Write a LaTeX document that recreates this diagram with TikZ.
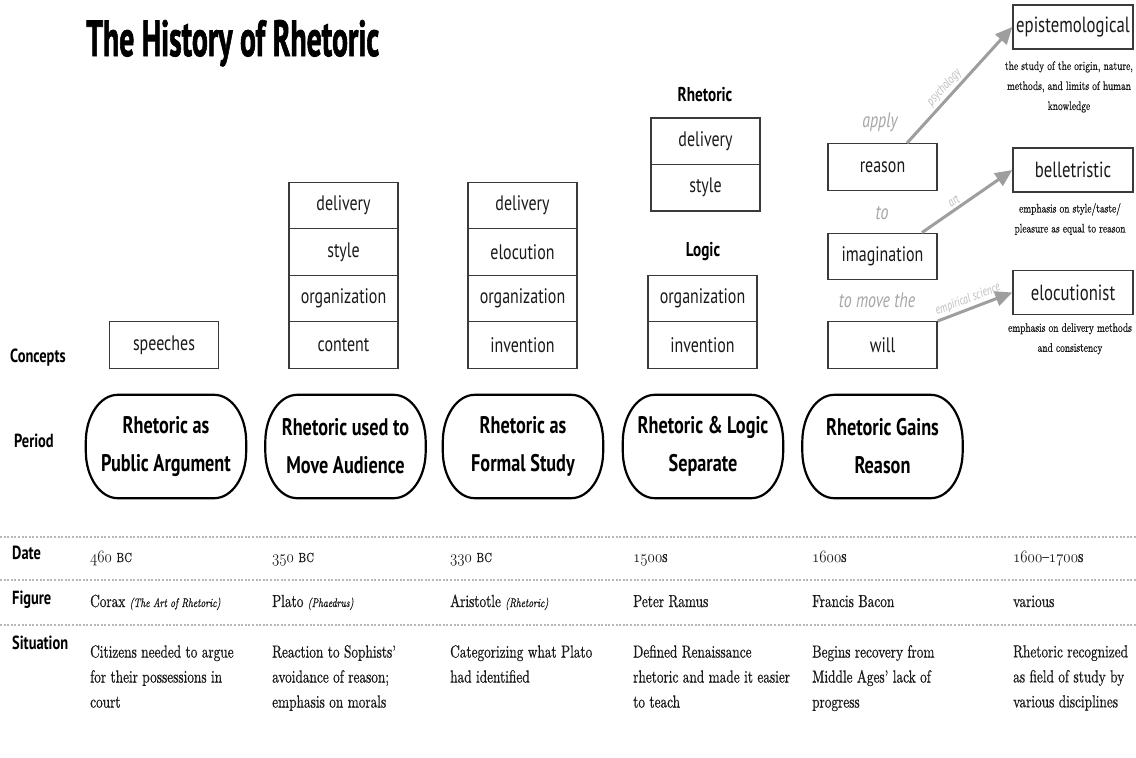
\documentclass[tikz,border=0pt]{standalone}
\usepackage{fontspec}
\usepackage{graphicx}
\usetikzlibrary{arrows.meta}
\setmainfont{lmroman10-regular}[Extension=.otf, ItalicFont=lmroman10-italic, BoldFont=lmroman10-bold, SmallCapsFont=lmromancaps10-regular, FakeStretch=0.76, FakeBold=0.6]
\newfontfamily\mysans{PT Sans}[FakeStretch=0.76]
\newfontfamily\mytitle{PT Sans}[FakeBold=1.8]
\definecolor{boxline}{HTML}{3A3A3A}
\definecolor{textdark}{HTML}{1A1A1A}
\definecolor{greytxt}{HTML}{A6A6A6}
\definecolor{arrowgrey}{HTML}{9E9E9E}
\definecolor{alabgrey}{HTML}{BDBDBD}
\definecolor{dotgrey}{HTML}{B8B8B8}
\newcommand\mycfont{\mysans\fontsize{21}{23}\selectfont}
\newcommand\myrfont{\mysans\fontsize{22}{24}\selectfont}
\newcommand\mypfont{\mysans\bfseries\fontsize{24}{38}\selectfont}
\newcommand\mylfont{\mysans\bfseries\fontsize{19}{21}\selectfont}
\newcommand\myhfont{\mysans\bfseries\fontsize{20}{22}\selectfont}
\newcommand\mygfont{\mysans\itshape\fontsize{21}{23}\selectfont}
\newcommand\myafont{\mysans\itshape\fontsize{13}{14}\selectfont}
\newcommand\mybfont{\fontsize{17.5}{25}\selectfont}
\newcommand\mydfont{\fontsize{12.4}{20}\selectfont}
\newcommand\mysmit{\fontsize{12.5}{14}\selectfont\itshape}
\newcommand\osn[1]{\scalebox{0.86}[1]{\fontsize{17.28}{20}\usefont{OML}{cmm}{m}{it}#1}}
\newcommand\pframe[1]{\draw[line width=2.2pt, black]
  ([xshift=32pt]#1.north west) -- ([xshift=-32pt]#1.north east)
  arc[start angle=90,end angle=0,x radius=32pt,y radius=47pt]
  -- ([yshift=47pt]#1.south east)
  arc[start angle=0,end angle=-90,x radius=32pt,y radius=47pt]
  -- ([xshift=32pt]#1.south west)
  arc[start angle=270,end angle=180,x radius=32pt,y radius=47pt]
  -- ([yshift=-47pt]#1.north west)
  arc[start angle=180,end angle=90,x radius=32pt,y radius=47pt] -- cycle;}
\begin{document}
\begin{tikzpicture}[x=1pt,y=1pt,
  cbox/.style={draw=boxline, line width=1.4pt, minimum width=109pt, minimum height=46.5pt, inner sep=0pt, font=\mycfont, text=textdark},
  rbox/.style={cbox, minimum width=120pt, minimum height=44pt, font=\myrfont},
  pnode/.style={minimum width=160pt, minimum height=103pt, inner sep=0pt, align=center, font=\mypfont, text=black},
  rowlab/.style={anchor=base west, font=\mylfont, inner sep=0pt, text=black},
  head/.style={font=\myhfont, inner sep=0pt, text=black},
  grey/.style={font=\mygfont, text=greytxt, inner sep=0pt},
  arr/.style={draw=arrowgrey, line width=3pt, -{Triangle[length=17pt,width=15pt]}},
  alab/.style={font=\myafont, text=alabgrey, sloped, above, inner sep=2pt},
  body/.style={anchor=base west, font=\mybfont, inner sep=0pt, text=textdark},
  sit/.style={anchor=north west, font=\mybfont, inner sep=0pt, text=textdark, align=left},
  desc/.style={anchor=north, font=\mydfont, inner sep=0pt, text=textdark, align=center},
  dotline/.style={draw=dotgrey, line width=1.2pt, dash pattern=on 2pt off 1.6pt}
]
\useasboundingbox (0,0) rectangle (1136,-758);
\fill[white] (0,0) rectangle (1136,-758);

% title
\node[anchor=base west, inner sep=0pt] (title) at (86,-56) {\resizebox{293pt}{36pt}{\mytitle\bfseries The History of Rhetoric}};

% row labels
\node[rowlab] (lconcepts) at (10,-362) {Concepts};
\node[rowlab] (lperiod) at (14,-447) {Period};
\node[rowlab] (ldate) at (12,-559) {Date};
\node[rowlab] (lfigure) at (12,-604) {Figure};
\node[rowlab] (lsit) at (12,-649) {Situation};

% concepts column 1
\node[cbox] (c1) at (164,-345) {speeches};
% column 2
\node[cbox] (c2a) at (343.5,-205.5) {delivery};
\node[cbox] (c2b) at (343.5,-252) {style};
\node[cbox] (c2c) at (343.5,-298.5) {organization};
\node[cbox] (c2d) at (343.5,-345) {content};
% column 3
\node[cbox] (c3a) at (522.5,-205.5) {delivery};
\node[cbox] (c3b) at (522.5,-252) {elocution};
\node[cbox] (c3c) at (522.5,-298.5) {organization};
\node[cbox] (c3d) at (522.5,-345) {invention};
% column 4
\node[head] (hrh) at (705,-95) {Rhetoric};
\node[cbox] (c4a) at (705.5,-141.25) {delivery};
\node[cbox] (c4b) at (705.5,-187.75) {style};
\node[head] (hlo) at (703,-252) {Logic};
\node[cbox] (c4c) at (702.5,-298.5) {organization};
\node[cbox] (c4d) at (702.5,-345) {invention};
% column 5
\node[grey] (gapply) at (880,-122) {apply};
\node[cbox] (reason) at (882.5,-167) {reason};
\node[grey] (gto) at (882,-213) {to};
\node[cbox] (imag) at (882.5,-256.5) {imagination};
\node[grey] (gmove) at (877,-300) {to move the};
\node[cbox] (will) at (882.5,-345) {will};

% right column
\node[rbox] (epist) at (1073,-27) {epistemological};
\node[desc] (epdesc) at (1069,-61) {the study of the origin, nature,\\methods, and limits of human\\knowledge};
\node[rbox] (bell) at (1073,-170) {belletristic};
\node[desc] (bedesc) at (1070,-203) {emphasis on style/taste/\\pleasure as equal to reason};
\node[rbox] (eloc) at (1073,-292.5) {elocutionist};
\node[desc] (eldesc) at (1070,-323) {emphasis on delivery methods\\and consistency};

% arrows
\draw[arr] ([xshift=24.5pt]reason.north) -- node[alab, pos=0.42] (lpsy) {psychology} (epist.west);
\draw[arr] ([xshift=39.5pt]imag.north) -- node[alab, pos=0.4] (lart) {art} (bell.west);
\draw[arr] (will.north east) -- node[alab, pos=0.45] (lemp) {empirical science} (eloc.west);

% periods
\node[pnode] (p1) at (166,-446.5) {Rhetoric as\\Public Argument};
\node[pnode] (p2) at (345.5,-446.5) {Rhetoric used to\\Move Audience};
\node[pnode] (p3) at (523,-446.5) {Rhetoric as\\Formal Study};
\node[pnode] (p4) at (703,-446.5) {Rhetoric \& Logic\\Separate};
\node[pnode] (p5) at (882.5,-446.5) {Rhetoric Gains\\Reason};
\pframe{p1}\pframe{p2}\pframe{p3}\pframe{p4}\pframe{p5}

% dotted rules
\draw[dotline] (0,-537) -- (1136,-537);
\draw[dotline] (0,-580) -- (1136,-580);
\draw[dotline] (0,-625) -- (1136,-625);

% dates
\node[body] (d1) at (90,-562) {\osn{460} \textsc{bc}};
\node[body] (d2) at (272,-562) {\osn{350} \textsc{bc}};
\node[body] (d3) at (450,-562) {\osn{330} \textsc{bc}};
\node[body] (d4) at (633,-562) {\osn{1500}s};
\node[body] (d5) at (812,-562) {\osn{1600}s};
\node[body] (d6) at (1013,-562) {\osn{1600}–\osn{1700}s};

% figures
\node[body] (f1) at (90,-607) {Corax {\mysmit(The Art of Rhetoric)}};
\node[body] (f2) at (272,-607) {Plato {\mysmit(Phaedrus)}};
\node[body] (f3) at (450,-607) {Aristotle {\mysmit(Rhetoric)}};
\node[body] (f4) at (633,-607) {Peter Ramus};
\node[body] (f5) at (812,-607) {Francis Bacon};
\node[body] (f6) at (1013,-607) {various};

% situations
\node[sit] (s1) at (90,-645) {Citizens needed to argue\\for their possessions in\\court};
\node[sit] (s2) at (272,-645) {Reaction to Sophists’\\avoidance of reason;\\emphasis on morals};
\node[sit] (s3) at (450,-645) {Categorizing what Plato\\had identified};
\node[sit] (s4) at (633,-645) {Defined Renaissance\\rhetoric and made it easier\\to teach};
\node[sit] (s5) at (812,-645) {Begins recovery from\\Middle Ages’ lack of\\progress};
\node[sit] (s6) at (1013,-645) {Rhetoric recognized\\as field of study by\\various disciplines};
\end{tikzpicture}
\end{document}
